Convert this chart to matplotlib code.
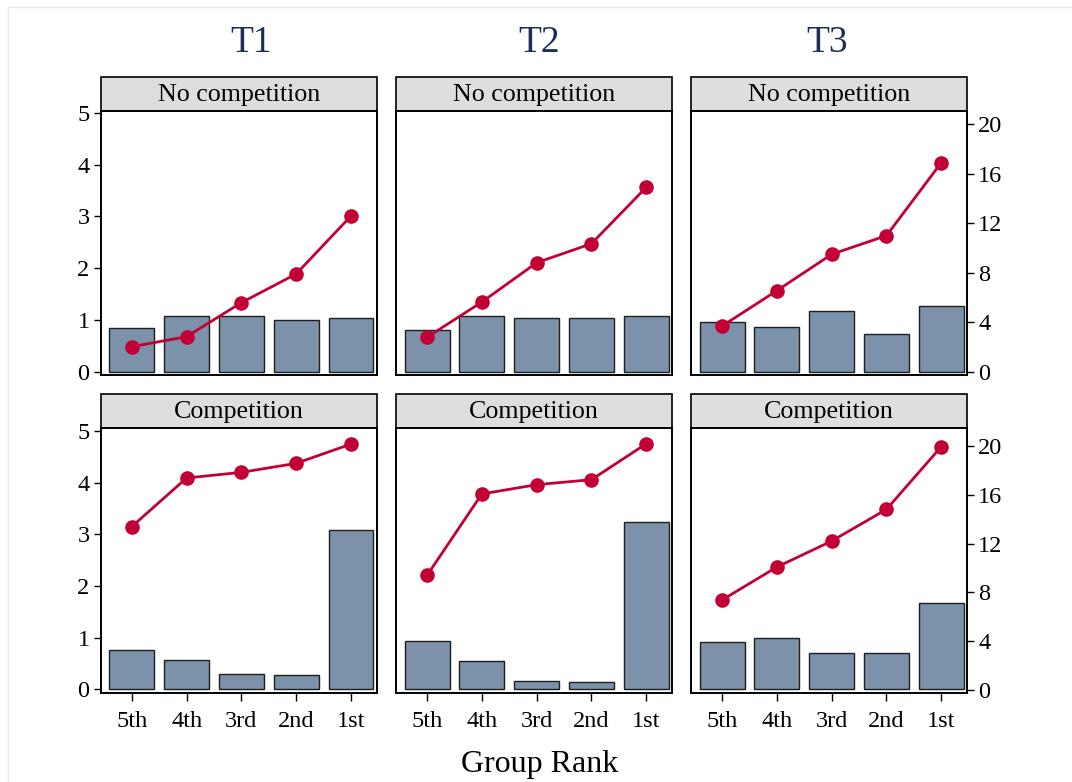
import matplotlib.pyplot as plt
from matplotlib.patches import Rectangle
import numpy as np

plt.rcParams['font.family'] = ['Liberation Serif', 'DejaVu Serif']

ranks = ['5th', '4th', '3rd', '2nd', '1st']
treatments = ['T1', 'T2', 'T3']
conditions = ['No competition', 'Competition']

# bars, left axis (0-5)
t1_nocomp_bar = [0.84, 1.07, 1.07, 1.00, 1.03]
t2_nocomp_bar = [0.80, 1.07, 1.04, 1.04, 1.07]
t3_nocomp_bar = [0.965, 0.87, 1.18, 0.735, 1.26]
t1_comp_bar = [0.77, 0.56, 0.30, 0.28, 3.09]
t2_comp_bar = [0.93, 0.54, 0.17, 0.135, 3.23]
t3_comp_bar = [0.92, 1.00, 0.70, 0.70, 1.68]

# line, right axis (0-20)
t1_nocomp_line = [2.02, 2.83, 5.58, 7.90, 12.59]
t2_nocomp_line = [2.78, 5.63, 8.81, 10.35, 14.91]
t3_nocomp_line = [3.69, 6.55, 9.49, 11.0, 16.9]
t1_comp_line = [13.39, 17.38, 17.84, 18.58, 20.16]
t2_comp_line = [9.40, 16.07, 16.83, 17.24, 20.19]
t3_comp_line = [7.38, 10.08, 12.21, 14.81, 19.95]

bar_data = [[t1_nocomp_bar, t2_nocomp_bar, t3_nocomp_bar],
            [t1_comp_bar, t2_comp_bar, t3_comp_bar]]
line_data = [[t1_nocomp_line, t2_nocomp_line, t3_nocomp_line],
             [t1_comp_line, t2_comp_line, t3_comp_line]]

BAR_COLOR = '#7b92aa'
LINE_COLOR = '#c20036'
TITLE_COLOR = '#1d2d57'

W, H = 1072, 782
fig = plt.figure(figsize=(W / 100, H / 100), dpi=100)

# faint outer border
fig.add_artist(Rectangle((8 / W, -0.2), 1.5, 1.2 - 7 / H, transform=fig.transFigure,
                         fill=False, ec='#e8e8e8', lw=1))

col_left = [100.7, 396, 691]
panel_w = 276
row_top = [110.7, 427.7]
row_bottom = [375, 692.7]
header_h = 34
left_lims = [(-0.064, 5.039), (-0.065, 5.064)]
right_lims = [(-0.27, 21.1), (-0.22, 21.5)]

x = np.arange(1, 6)

for r in range(2):
    for c in range(3):
        ph = row_bottom[r] - row_top[r]
        ax = fig.add_axes([col_left[c] / W, 1 - row_bottom[r] / H, panel_w / W, ph / H])
        ax2 = ax.twinx()

        ax.bar(x, bar_data[r][c], width=0.82, color=BAR_COLOR, edgecolor='#1e1e1e',
               linewidth=1.0, zorder=2)
        ax2.plot(x, line_data[r][c], color=LINE_COLOR, lw=2.0, marker='o',
                 markersize=10.5, markeredgewidth=0, zorder=3)

        ax.set_xlim(0.433, 5.469)
        ax.set_ylim(*left_lims[r])
        ax2.set_ylim(*right_lims[r])

        for a in (ax, ax2):
            for sp in a.spines.values():
                sp.set_linewidth(1.2)
                sp.set_color('black')

        # left axis only on first column
        if c == 0:
            ax.set_yticks(range(6))
            ax.tick_params(axis='y', direction='out', length=5, width=1,
                           labelsize=17.5, pad=3)
        else:
            ax.set_yticks([])
        # right axis only on last column
        if c == 2:
            ax2.set_yticks(range(0, 21, 4))
            ax2.tick_params(axis='y', direction='out', length=5, width=1,
                            labelsize=17.5, pad=3)
        else:
            ax2.set_yticks([])

        if r == 1:
            ax.set_xticks(x)
            ax.set_xticklabels(ranks)
            ax.tick_params(axis='x', direction='out', length=6, width=1,
                           labelsize=17.5, pad=7)
        else:
            ax.set_xticks([])

        # strip header
        hh = header_h / ph
        ax.add_patch(Rectangle((0, 1), 1, hh, transform=ax.transAxes, clip_on=False,
                               facecolor='#dedede', edgecolor='black', lw=1.2))
        ax.text(0.5, 1 + hh / 2 - 0.006, conditions[r], transform=ax.transAxes,
                ha='center', va='center', fontsize=18.7)

title_x = [251, 539, 827]
for t, tx in zip(treatments, title_x):
    fig.text(tx / W, 1 - 52 / H, t, ha='center', va='baseline', fontsize=27,
             color=TITLE_COLOR)

fig.text(540 / W, 1 - 772 / H, 'Group Rank', ha='center', va='baseline', fontsize=23)

fig.savefig('out.png', dpi=100)
